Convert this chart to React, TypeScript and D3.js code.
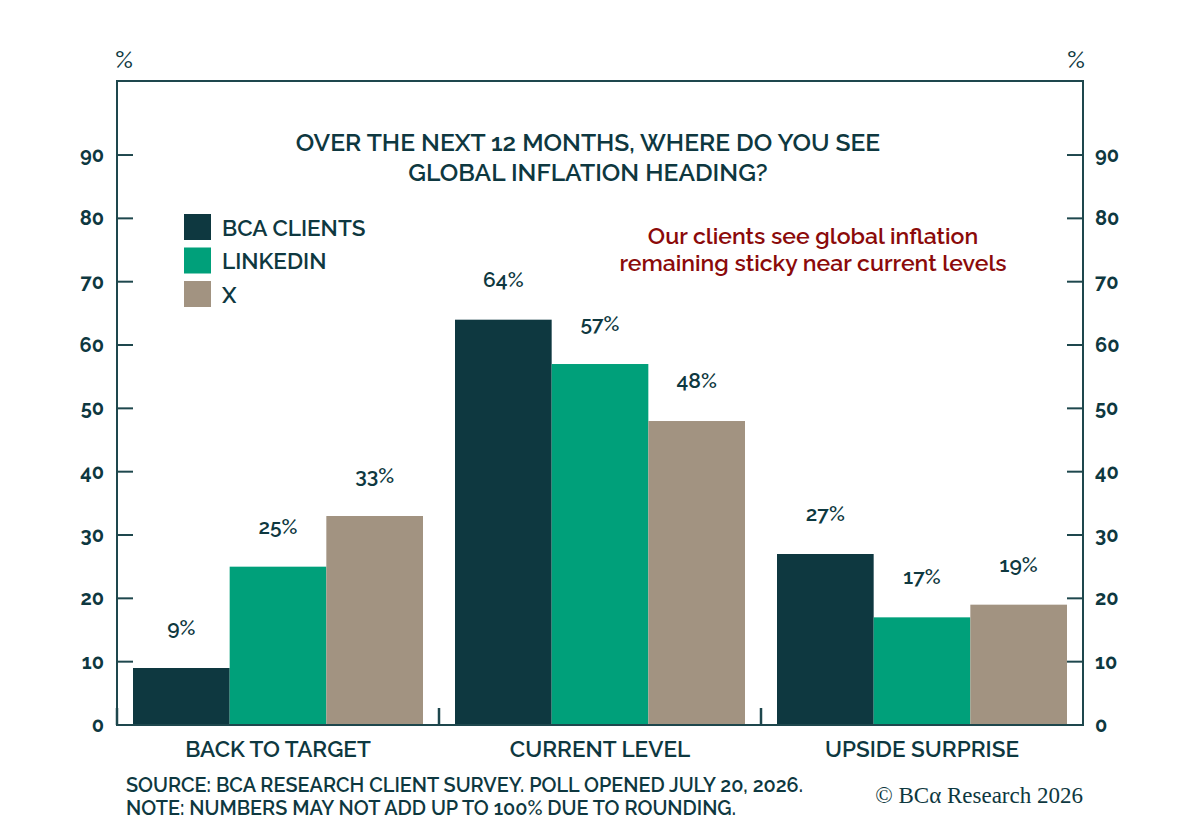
import React from "react";
import * as d3 from "d3";

const categories = ["BACK TO TARGET", "CURRENT LEVEL", "UPSIDE SURPRISE"];
const seriesNames = ["BCA CLIENTS", "LINKEDIN", "X"];
const bcaClients = [9, 64, 27];
const linkedin = [25, 57, 17];
const xSeries = [33, 48, 19];
const yTicks = [0, 10, 20, 30, 40, 50, 60, 70, 80, 90];
const titleLines = ["OVER THE NEXT 12 MONTHS, WHERE DO YOU SEE", "GLOBAL INFLATION HEADING?"];
const noteLines = ["Our clients see global inflation", "remaining sticky near current levels"];
const footerLines = [
  "SOURCE: BCA RESEARCH CLIENT SURVEY. POLL OPENED JULY 20, 2026.",
  "NOTE: NUMBERS MAY NOT ADD UP TO 100% DUE TO ROUNDING.",
];

const W = 1200;
const H = 830;
const colors = ["#0E3840", "#00A07A", "#A29381"];
const ink = "#0E3840";
const axisColor = "#1E474D";
const font = "Raleway, Lato, 'Open Sans', sans-serif";

export default function App() {
  React.useEffect(() => {
    document.body.style.margin = "0";
  }, []);

  const left = 117;
  const right = 1083;
  const y = d3.scaleLinear().domain([0, 100]).range([725, 725 - 633.3]);
  const top = y(101.7);
  const x0 = d3.scaleBand<string>().domain(categories).range([left, right]).paddingInner(0);
  const x1 = d3
    .scaleBand<string>()
    .domain(seriesNames)
    .range([16, x0.bandwidth() - 16])
    .padding(0);
  const series = [bcaClients, linkedin, xSeries];

  return (
    <svg width={W} height={H} style={{ display: "block", background: "#fff" }} fontFamily={font}>
      {/* bars */}
      {categories.map((c, ci) => (
        <g key={c} transform={`translate(${x0(c)},0)`}>
          {seriesNames.map((s, si) => {
            const v = series[si][ci];
            return (
              <g key={s}>
                <rect
                  x={x1(s)}
                  y={y(v)}
                  width={x1.bandwidth()}
                  height={y(0) - y(v)}
                  fill={colors[si]}
                />
                <text
                  x={(x1(s) as number) + x1.bandwidth() / 2}
                  y={y(v) - 33}
                  textAnchor="middle"
                  fontSize={21}
                  fontWeight={600}
                  fill={ink}
                >
                  {v}%
                </text>
              </g>
            );
          })}
          <text
            x={x0.bandwidth() / 2}
            y={757}
            textAnchor="middle"
            fontSize={22.5}
            fontWeight={600}
            fill={ink}
          >
            {c}
          </text>
          <line x1={0} x2={0} y1={y(0) - 17} y2={y(0)} stroke={axisColor} strokeWidth={2.5} />
        </g>
      ))}

      {/* frame */}
      <path
        d={`M${left},${y(0)} L${left},${top} L${right},${top} L${right},${y(0)} Z`}
        fill="none"
        stroke={axisColor}
        strokeWidth={2}
      />

      {/* y ticks */}
      {yTicks.map((t) => (
        <g key={t}>
          <line x1={left} x2={left + 16} y1={y(t)} y2={y(t)} stroke={axisColor} strokeWidth={2} />
          <line x1={right - 16} x2={right} y1={y(t)} y2={y(t)} stroke={axisColor} strokeWidth={2} />
          <text x={104} y={y(t) + 7} textAnchor="end" fontSize={20} fontWeight={700} fill={ink}>
            {t}
          </text>
          <text x={1095} y={y(t) + 7} textAnchor="start" fontSize={20} fontWeight={700} fill={ink}>
            {t}
          </text>
        </g>
      ))}
      <text x={124} y={68} textAnchor="middle" fontSize={24} fontWeight={500} fill={ink}>%</text>
      <text x={1076} y={68} textAnchor="middle" fontSize={24} fontWeight={500} fill={ink}>%</text>

      {/* title */}
      {titleLines.map((l, i) => (
        <text key={l} x={588} y={151 + i * 30} textAnchor="middle" fontSize={24.6} fontWeight={600} fill={ink}>
          {l}
        </text>
      ))}

      {/* legend */}
      {seriesNames.map((s, i) => (
        <g key={s} transform={`translate(184,${214 + i * 33.5})`}>
          <rect width={27} height={26} fill={colors[i]} />
          <text x={38} y={21.5} fontSize={22.5} fontWeight={600} fill={ink}>
            {s}
          </text>
        </g>
      ))}

      {/* annotation */}
      {noteLines.map((l, i) => (
        <text key={l} x={813} y={244 + i * 27} textAnchor="middle" fontSize={23} fontWeight={600} fill="#8B0A0A">
          {l}
        </text>
      ))}

      {/* footer */}
      {footerLines.map((l, i) => (
        <text key={l} x={126} y={792 + i * 23} fontSize={19.85} fontWeight={600} fill={ink}>
          {l}
        </text>
      ))}
      <text
        x={1083}
        y={803}
        textAnchor="end"
        fontSize={23}
        fontFamily="'Liberation Serif', 'DejaVu Serif', serif"
        fill={ink}
      >
        © BCα Research 2026
      </text>
    </svg>
  );
}
